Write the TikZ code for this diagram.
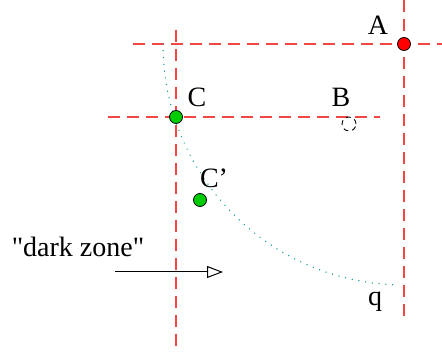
\documentclass[tikz,border=0pt]{standalone}
\usepackage{fontspec}
\setmainfont{Liberation Serif}
\usetikzlibrary{arrows.meta}
\definecolor{gridred}{RGB}{245,70,70}
\definecolor{dotgreen}{RGB}{0,205,0}
\definecolor{arcteal}{RGB}{0,150,150}
\tikzset{
  gridline/.style={draw=gridred, line width=0.7pt, dash pattern=on 6pt off 3.5pt},
  reddot/.style={circle, draw=black, fill=red, line width=0.4pt, minimum size=6.5pt, inner sep=0pt},
  greendot/.style={circle, draw=black, fill=dotgreen, line width=0.4pt, minimum size=6.5pt, inner sep=0pt},
  ghostdot/.style={circle, draw=black, dash pattern=on 2.5pt off 2pt, line width=0.45pt, minimum size=7pt, inner sep=0pt},
  lbl/.style={inner sep=0pt, font=\fontsize{14}{16}\selectfont},
  zonearrow/.style={-{Triangle[open, length=8pt, width=6pt]}, line width=0.5pt}
}
\begin{document}
\begin{tikzpicture}[x=0.5pt, y=0.5pt]
  \useasboundingbox (0,0) rectangle (442,356);

  % guide lines
  \coordinate (h1l) at (133,312); \coordinate (h1r) at (442,312);
  \coordinate (h2l) at (108,239); \coordinate (h2r) at (380,239);
  \coordinate (v1t) at (404,356); \coordinate (v1b) at (404,36);
  \coordinate (v2t) at (176,326); \coordinate (v2b) at (176,6);
  \draw[gridline] (h1l) -- (h1r);
  \draw[gridline] (h2l) -- (h2r);
  \draw[gridline] (v1t) -- (v1b);
  \draw[gridline] (v2t) -- (v2b);

  % arc around A
  \draw[arcteal, line width=0.7pt, line cap=round, dash pattern=on 0pt off 3.4pt] (163,312) arc[start angle=180, end angle=268, radius=241];

  % points
  \node[reddot] (A) at (404,312) {};
  \node[ghostdot] (B) at (349,232) {};
  \node[greendot] (C) at (176,239) {};
  \node[greendot] (Cp) at (200,156) {};

  % labels
  \node[lbl] (Alab) at (378,331) {A};
  \node[lbl] (Blab) at (341,259) {B};
  \node[lbl] (Clab) at (197,259) {C};
  \node[lbl] (Cplab) at (214,178) {C’};
  \node[lbl] (qlab) at (375,54) {q};
  \node[lbl] (zone) at (78,109) {\textquotedbl dark zone\textquotedbl};

  % dark zone arrow
  \coordinate (zs) at (115,84);
  \coordinate (ze) at (223,84);
  \draw[zonearrow] (zs) -- (ze);
\end{tikzpicture}
\end{document}
